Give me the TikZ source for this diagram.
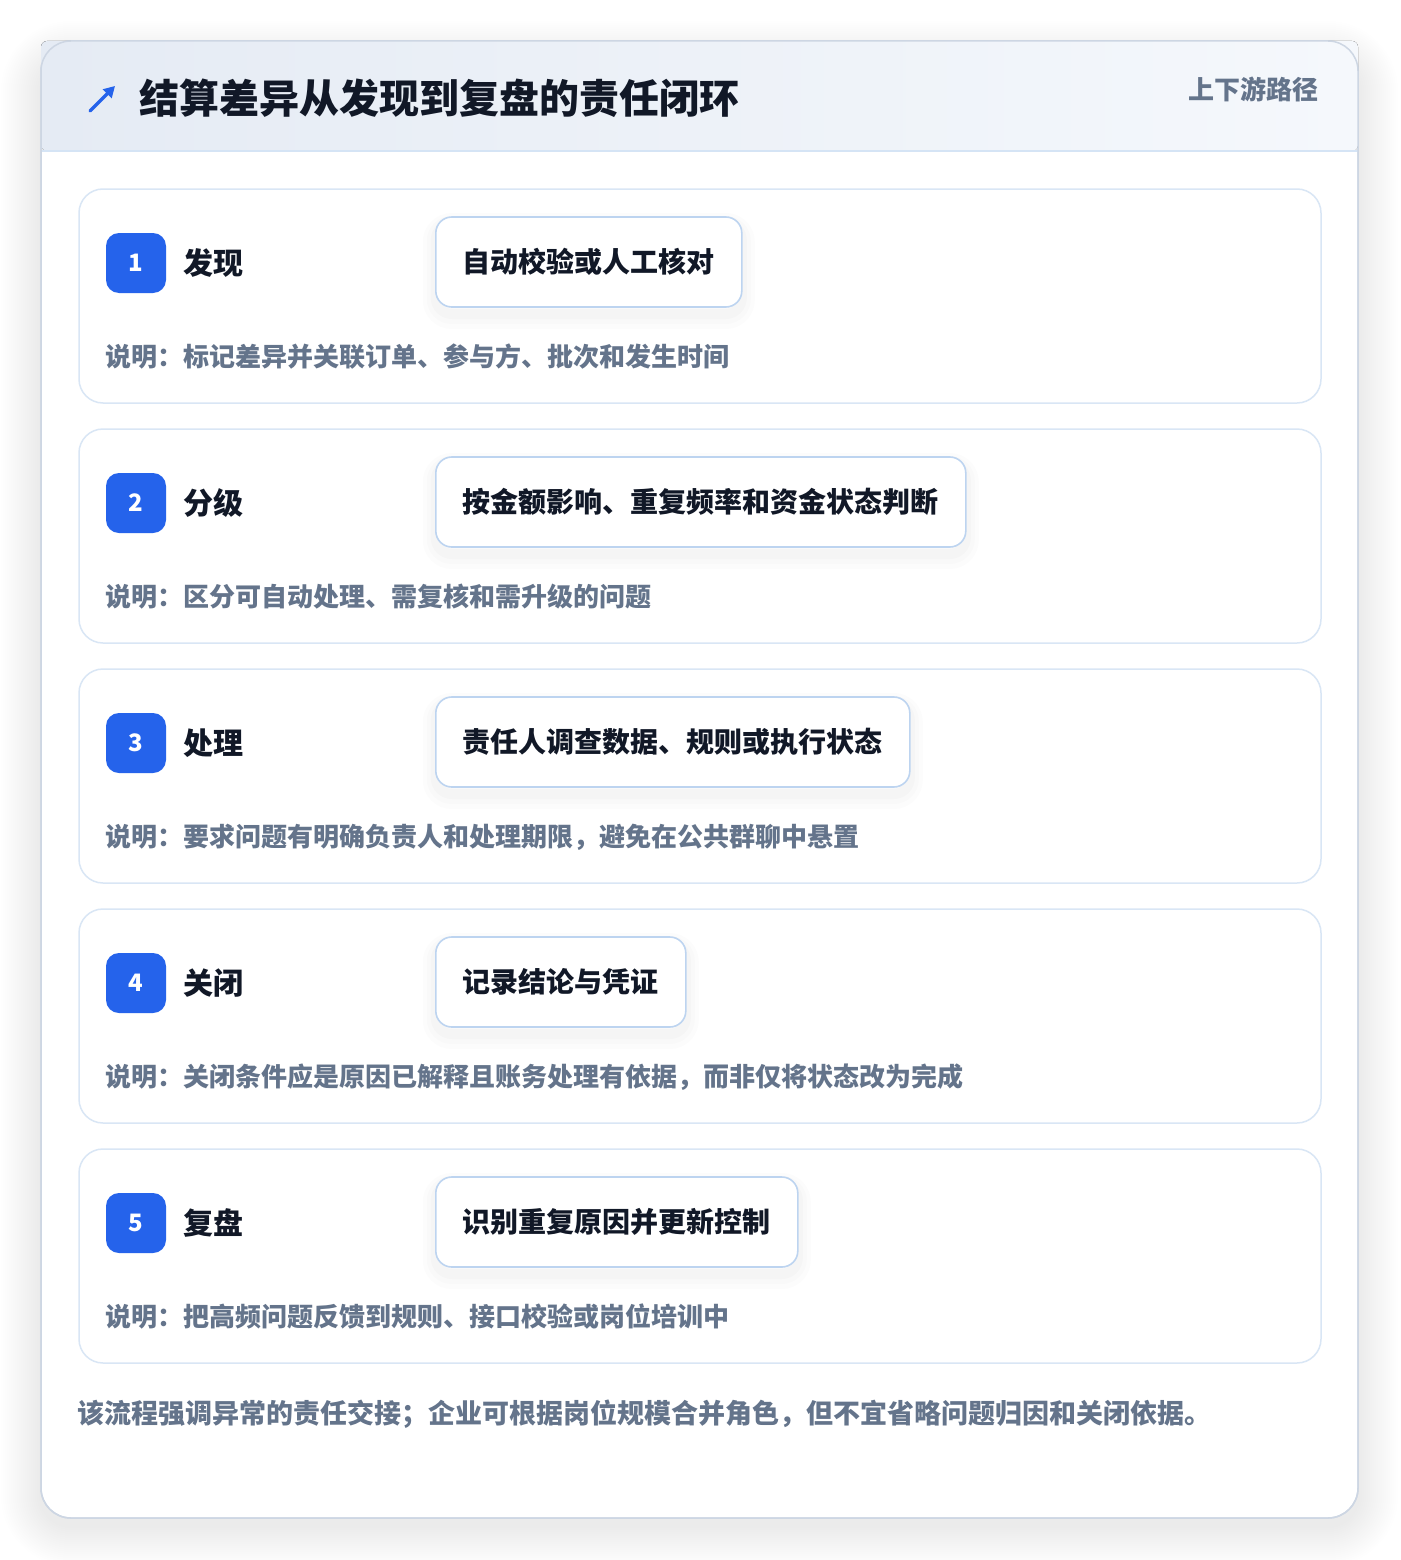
\documentclass[tikz,border=0pt]{standalone}
\usepackage{fontspec}
\setmainfont{Noto Sans CJK SC}
\usetikzlibrary{arrows.meta}
\definecolor{ink}{HTML}{111827}
\definecolor{muted}{HTML}{64748B}
\definecolor{brand}{HTML}{2563EB}
\definecolor{cardline}{HTML}{CDD6E3}
\definecolor{stepline}{HTML}{D9E6F5}
\definecolor{boxline}{HTML}{BDD4F0}
\definecolor{hdrL}{HTML}{E5EBF4}
\definecolor{hdrR}{HTML}{F5F8FC}
\definecolor{hdrline}{HTML}{D5E4F5}
\newcommand\fTitle{\fontsize{40}{48}\selectfont\bfseries}
\newcommand\fSub{\fontsize{26}{32}\selectfont\bfseries}
\newcommand\fLab{\fontsize{30}{36}\selectfont\bfseries}
\newcommand\fBox{\fontsize{28}{34}\selectfont\bfseries}
\newcommand\fDesc{\fontsize{26}{32}\selectfont\bfseries}
\newcommand\fFoot{\fontsize{27}{33}\selectfont\bfseries}
\newcommand\fNum{\fontsize{24}{28}\selectfont\bfseries}
\tikzset{
  txt/.style={inner sep=0pt, anchor=west},
  badge/.style={fill=brand, text=white, font=\fNum, minimum width=60pt, minimum height=60pt, rounded corners=13pt, inner sep=0pt},
  stepcard/.style={draw=stepline, line width=1.5pt, fill=white, rounded corners=24pt},
  actbox/.style={draw=boxline, line width=1.6pt, fill=white, rounded corners=16pt, minimum height=90pt, inner xsep=27pt, inner ysep=0pt, anchor=west, font=\fBox, text=ink,
    preaction={draw=black, draw opacity=0.010, line width=26pt, transform canvas={yshift=-9pt}},
    preaction={draw=black, draw opacity=0.012, line width=18pt, transform canvas={yshift=-8pt}},
    preaction={draw=black, draw opacity=0.014, line width=10pt, transform canvas={yshift=-7pt}}},
}
\begin{document}
\begin{tikzpicture}[x=1pt,y=-1pt]
\useasboundingbox (0,0) rectangle (1400,1560);
\fill[white] (0,0) rectangle (1400,1560);
% soft shadow of the main card
\foreach \i in {1,...,20}{
  \pgfmathsetmacro\r{30+2*\i}
  \pgfmathsetmacro\e{2*\i}
  \fill[black, opacity=0.0042, rounded corners=\r pt] (41-\e,41-\e+20) rectangle (1358+\e,1518+\e+8);
}
% main card
\draw[draw=cardline, line width=1.5pt, fill=white, rounded corners=30pt] (41,41) rectangle (1358,1518);
% header band
\fill[left color=hdrL, right color=hdrR, rounded corners=6pt] (41,41) rectangle (1358,151);
\draw[hdrline, line width=1.5pt] (41,151) -- (1358,151);
\draw[draw=cardline, line width=1.5pt, rounded corners=30pt] (41,41) rectangle (1358,1518);
% icon
\draw[brand, line width=3.2pt, line cap=round, -{Triangle[length=11pt,width=12pt]}] (90,111) -- (115,86);
\node[txt, font=\fTitle, text=ink] (title) at (139,98) {结算差异从发现到复盘的责任闭环};
\node[inner sep=0pt, anchor=east, font=\fSub, text=muted] (sub) at (1319,89) {上下游路径};
% steps
\foreach \n/\lab/\act/\desc [count=\k] in {
  1/发现/自动校验或人工核对/说明：标记差异并关联订单、参与方、批次和发生时间,
  2/分级/按金额影响、重复频率和资金状态判断/说明：区分可自动处理、需复核和需升级的问题,
  3/处理/责任人调查数据、规则或执行状态/说明：要求问题有明确负责人和处理期限，避免在公共群聊中悬置,
  4/关闭/记录结论与凭证/说明：关闭条件应是原因已解释且账务处理有依据，而非仅将状态改为完成,
  5/复盘/识别重复原因并更新控制/说明：把高频问题反馈到规则、接口校验或岗位培训中}{
  \pgfmathsetmacro\yo{189+240*(\k-1)}
  \draw[stepcard] (79,\yo) rectangle (1321,\yo+214);
  \node[badge] (b\k) at (136,\yo+74) {\n};
  \node[txt, font=\fLab, text=ink] (l\k) at (183,\yo+74) {\lab};
  \node[actbox] (a\k) at (435,\yo+73) {\act};
  \node[txt, font=\fDesc, text=muted] (d\k) at (105,\yo+168) {\desc};
}
\node[txt, font=\fFoot, text=muted] (foot) at (77,1414) {该流程强调异常的责任交接；企业可根据岗位规模合并角色，但不宜省略问题归因和关闭依据。};
\end{tikzpicture}
\end{document}
